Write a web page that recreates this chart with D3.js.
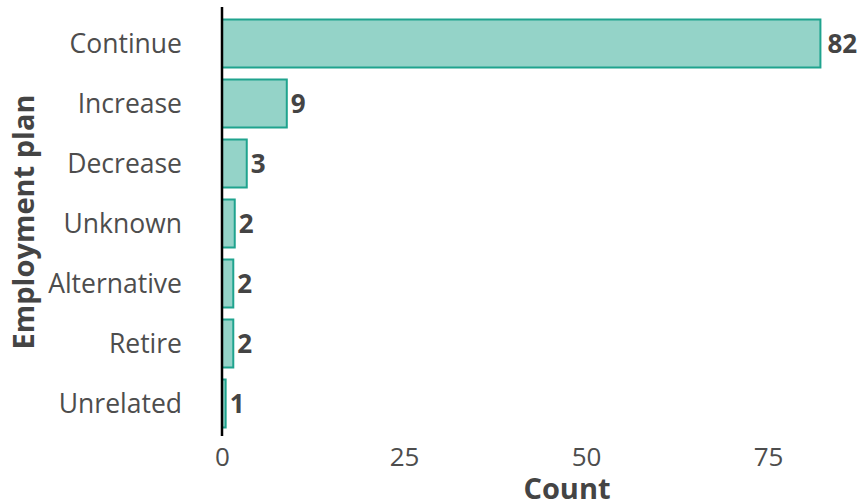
<!DOCTYPE html>
<html><head><meta charset="utf-8">
<script src="https://cdn.jsdelivr.net/npm/d3@7"></script>
<style>
body{margin:0;background:#fff;}
text{font-family:"Open Sans",sans-serif;}
</style></head>
<body><svg id="c" width="859" height="504"></svg>
<script>
const categories = ["Continue","Increase","Decrease","Unknown","Alternative","Retire","Unrelated"];
const counts = [82, 9, 3, 2, 2, 2, 1];
const barLengths = [82.2, 8.9, 3.4, 1.75, 1.55, 1.55, 0.5];
const xTicks = [0, 25, 50, 75];

const svg = d3.select("#c");
const x = d3.scaleLinear().domain([0, 25]).range([222, 404]);
const y = d3.scaleBand().domain(categories).range([13.5, 433.5]).paddingInner(0.2).paddingOuter(0.1);

const data = categories.map((c,i)=>({c, n:counts[i], v:barLengths[i]}));

svg.selectAll("rect.bar").data(data).enter().append("rect")
  .attr("class","bar")
  .attr("x", x(0))
  .attr("y", d=>y(d.c))
  .attr("width", d=>x(d.v)-x(0))
  .attr("height", y.bandwidth())
  .attr("fill","#94d3c8")
  .attr("stroke","#1fa38e")
  .attr("stroke-width",2);

svg.selectAll("text.lab").data(data).enter().append("text")
  .attr("class","lab")
  .attr("x", d=>x(d.v)+ (d.n > 50 ? 7 : 4))
  .attr("y", d=>y(d.c)+y.bandwidth()/2)
  .attr("dy","0.36em")
  .attr("font-size",26)
  .attr("font-weight",700)
  .attr("fill","#444")
  .text(d=>d.n);

// y axis
const ya = svg.append("g").attr("transform",`translate(${x(0)},0)`)
  .call(d3.axisLeft(y).tickSize(0).tickPadding(40));
ya.select(".domain").remove();
ya.selectAll("text").attr("font-size",26.5).attr("fill","#4d4d4d").attr("font-family","Open Sans").attr("dy","0.36em");
svg.append("line").attr("x1",x(0)).attr("x2",x(0)).attr("y1",7).attr("y2",436)
  .attr("stroke","#000").attr("stroke-width",2.5);

// x axis
const xa = svg.append("g").attr("transform","translate(0,436)")
  .call(d3.axisBottom(x).tickValues(xTicks).tickSize(0).tickPadding(8));
xa.select(".domain").remove();
xa.selectAll("text").attr("font-size",26).attr("fill","#4d4d4d").attr("font-family","Open Sans").attr("dy","0.85em");

svg.append("text").attr("x",567).attr("y",499).attr("text-anchor","middle")
  .attr("font-size",29).attr("font-weight",700).attr("fill","#444").text("Count");
svg.append("text").attr("transform","translate(34,222) rotate(-90)").attr("text-anchor","middle")
  .attr("font-size",29).attr("font-weight",700).attr("fill","#444").text("Employment plan");
</script></body></html>
